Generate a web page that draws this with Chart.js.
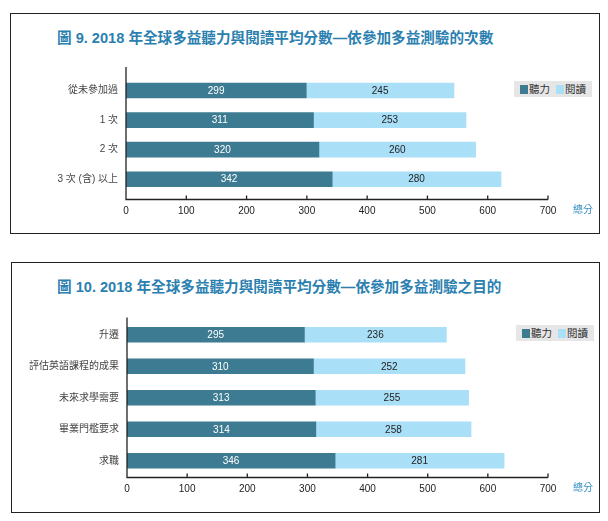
<!DOCTYPE html>
<html>
<head>
<meta charset="utf-8">
<script src="https://cdn.jsdelivr.net/npm/chart.js@4"></script>
<style>
  body { margin: 0; background: #fff; width: 608px; height: 521px; position: relative; overflow: hidden;
         font-family: 'Liberation Sans', 'Noto Sans CJK TC', sans-serif; }
  .panel { position: absolute; box-sizing: border-box; border: 1.5px solid #222; }
  .title { position: absolute; left: 57px; font-size: 14.6px; font-weight: bold; color: #2b80b0;
           line-height: 19px; white-space: nowrap; font-family: 'Liberation Sans', 'Noto Sans CJK TC', sans-serif; }
  .wrap { position: absolute; left: 0; width: 608px; }
  .legend { position: absolute; background: #e6e6e6; height: 16px; width: 78px; font-size: 10.5px;
            color: #333; line-height: 16px; white-space: nowrap; }
  .legend i { display: inline-block; width: 8px; height: 9px; vertical-align: -1px; margin: 0 1px 0 6px; }
</style>
</head>
<body>
<div class="panel" style="left:10px; top:13px; width:590px; height:221px;"></div>
<div class="panel" style="left:11px; top:262px; width:589px; height:251px;"></div>

<div class="title" style="top:29px;">圖 9. 2018 年全球多益聽力與閱讀平均分數—依參加多益測驗的次數</div>
<div class="title" style="top:278px;">圖 10. 2018 年全球多益聽力與閱讀平均分數—依參加多益測驗之目的</div>

<div class="wrap" style="top:60px; height:170px;"><canvas id="chart1"></canvas></div>
<div class="wrap" style="top:305px; height:205px;"><canvas id="chart2"></canvas></div>

<div class="legend" style="left:514px; top:81px;"><i style="background:#3d7b92"></i>聽力<i style="background:#a9dff7"></i>閱讀</div>
<div class="legend" style="left:516px; top:325px;"><i style="background:#3d7b92"></i>聽力<i style="background:#a9dff7"></i>閱讀</div>

<script>
// --------- Data ----------
const attemptLabels = ["從未參加過", "1 次", "2 次", "3 次 (含) 以上"];
const attemptListening = [299, 311, 320, 342];
const attemptReading = [245, 253, 260, 280];

const purposeLabels = ["升遷", "評估英語課程的成果", "未來求學需要", "畢業門檻要求", "求職"];
const purposeListening = [295, 310, 313, 314, 346];
const purposeReading = [236, 252, 255, 258, 281];

const seriesNames = ["聽力", "閱讀"];
const axisUnit = "總分";

const FONT = "'Liberation Sans', 'Noto Sans CJK TC', sans-serif";
const DARK = "#3d7b92";
const LIGHT = "#a9dff7";

// draws numbers inside each bar segment
const barLabels = {
  id: "barLabels",
  afterDatasetsDraw(chart) {
    const ctx = chart.ctx;
    ctx.save();
    ctx.font = "10px " + FONT;
    ctx.textAlign = "center";
    ctx.textBaseline = "middle";
    chart.data.datasets.forEach((ds, i) => {
      const meta = chart.getDatasetMeta(i);
      ctx.fillStyle = i === 0 ? "#ffffff" : "#222222";
      meta.data.forEach((bar, j) => {
        const p = bar.getCenterPoint();
        ctx.fillText(ds.data[j], p.x, p.y + 0.5);
      });
    });
    ctx.restore();
  },
};

// axis lines a bit longer than the chart area, small upward ticks, unit label
const axisLines = {
  id: "axisLines",
  afterDraw(chart, args, opts) {
    const ctx = chart.ctx;
    const area = chart.chartArea;
    const xs = chart.scales.x;
    const yAxis = area.bottom + opts.extBottom;
    ctx.save();
    ctx.strokeStyle = "#222";
    ctx.lineWidth = 1.3;
    ctx.beginPath();
    ctx.moveTo(area.left, area.top - opts.extTop);
    ctx.lineTo(area.left, yAxis);
    ctx.lineTo(xs.getPixelForValue(700), yAxis);
    xs.ticks.forEach((t) => {
      if (t.value === 0) return;
      const x = xs.getPixelForValue(t.value);
      ctx.moveTo(x, yAxis);
      ctx.lineTo(x, yAxis - 4);
    });
    ctx.stroke();
    ctx.font = "10px " + FONT;
    ctx.fillStyle = "#3a8fc4";
    ctx.textAlign = "center";
    ctx.textBaseline = "middle";
    ctx.fillText(axisUnit, xs.getPixelForValue(700) + 35, yAxis + 11);
    ctx.restore();
  },
};

function makeChart(id, labels, listening, reading, cfg) {
  return new Chart(document.getElementById(id), {
    type: "bar",
    data: {
      labels: labels,
      datasets: [
        { label: seriesNames[0], data: listening, backgroundColor: DARK, barThickness: 15 },
        { label: seriesNames[1], data: reading, backgroundColor: LIGHT, barThickness: 15 },
      ],
    },
    options: {
      indexAxis: "y",
      responsive: true,
      maintainAspectRatio: false,
      animation: false,
      layout: { padding: { top: cfg.top, right: 60, left: 0, bottom: 0 } },
      plugins: {
        legend: { display: false },
        tooltip: { enabled: false },
        axisLines: { extTop: cfg.extTop, extBottom: cfg.extBottom },
      },
      scales: {
        x: {
          stacked: true,
          min: 0,
          max: 700,
          grid: { display: false, drawTicks: false },
          border: { display: false },
          ticks: { stepSize: 100, color: "#222", font: { size: 10, family: FONT }, padding: cfg.extBottom + 5.5 },
          afterFit: (s) => { s.height = cfg.xHeight; },
        },
        y: {
          stacked: true,
          grid: { display: false, drawTicks: false },
          border: { display: false },
          ticks: { color: "#444", font: { size: 10, family: FONT }, padding: 8 },
          afterFit: (s) => { s.width = cfg.left; },
        },
      },
    },
    plugins: [barLabels, axisLines],
  });
}

makeChart("chart1", attemptLabels, attemptListening, attemptReading,
  { top: 15.7, left: 126, xHeight: 36, extTop: 8.7, extBottom: 5.5 });
makeChart("chart2", purposeLabels, purposeListening, purposeReading,
  { top: 11.5, left: 127, xHeight: 33.5, extTop: 1.5, extBottom: 1 });
</script>
</body>
</html>
